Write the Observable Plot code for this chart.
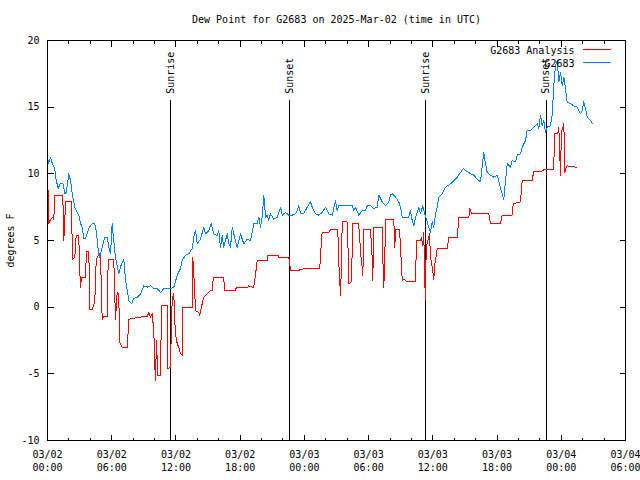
<!DOCTYPE html>
<html><head><meta charset="utf-8">
<script src="https://cdn.jsdelivr.net/npm/d3@7"></script>
<script src="https://cdn.jsdelivr.net/npm/@observablehq/plot@0.6"></script>
<style>body{margin:0;background:#fff} svg{display:block}</style>
</head><body><div id="chart"></div>
<script>
// Hours after 2025-03-02 00:00 UTC, and dew point (°F)
const obsHours = [0.0,0.07,0.28,0.44,0.68,0.75,1.0,1.21,1.43,1.62,1.75,1.99,2.15,2.31,2.55,2.77,2.92,3.08,3.24,3.39,3.55,3.86,4.02,4.18,4.42,4.55,4.74,4.86,5.11,5.35,5.58,5.73,5.89,6.04,6.19,6.35,6.66,6.91,7.13,7.29,7.45,7.6,7.85,8.06,8.38,8.69,9.0,9.31,9.62,9.93,10.25,10.56,10.87,11.18,11.49,11.8,12.12,12.43,12.58,12.89,13.2,13.52,13.67,13.83,13.99,14.29,14.6,14.76,15.07,15.29,15.54,15.85,16.0,16.16,16.32,16.47,16.79,16.94,17.1,17.26,17.56,17.72,18.03,18.34,18.66,18.97,19.27,19.59,19.74,19.9,20.06,20.21,20.37,20.52,20.67,20.83,21.14,21.46,21.61,21.77,21.93,22.24,22.54,22.86,23.17,23.33,23.48,23.64,23.94,24.26,24.57,24.73,25.04,25.35,25.66,25.97,26.28,26.6,26.91,27.06,27.21,27.84,28.47,28.62,28.77,29.08,29.4,29.71,29.87,30.18,30.48,30.8,30.95,31.27,31.58,31.89,32.04,32.2,32.51,32.82,32.98,33.14,33.45,33.75,33.91,34.07,34.22,34.38,34.54,34.69,34.85,35.06,35.25,35.47,35.62,35.78,35.94,36.09,36.25,36.41,36.56,36.87,37.18,37.65,37.96,38.28,38.58,38.84,39.05,39.36,39.52,39.83,40.14,40.45,40.76,40.92,41.08,41.39,41.7,42.01,42.16,42.32,42.63,42.79,42.95,43.26,43.41,43.72,43.88,44.19,44.35,44.66,44.81,45.12,45.43,45.75,45.9,46.06,46.21,46.37,46.52,46.68,46.99,47.15,47.3,47.46,47.62,47.77,47.93,48.09,48.24,48.39,48.55,48.86,49.17,49.49,49.79,49.95,50.1,50.26,50.42,50.73,50.89];
const obsValues = [11.75,10.75,11.25,10.8,10.4,9.75,8.9,9.3,9.3,8.5,8.6,10.0,9.5,8.5,7.5,7.1,6.9,6.3,6.0,5.15,5.15,5.9,6.1,6.25,6.25,5.75,4.25,3.75,4.5,5.25,5.25,4.5,4.0,6.25,5.0,3.75,2.5,3.25,3.6,2.0,1.25,0.5,0.25,0.65,0.75,1.0,1.6,1.5,1.6,1.4,1.4,1.1,1.4,1.4,1.4,1.5,2.4,2.9,3.5,3.9,4.0,4.4,5.25,5.75,4.75,5.1,6.0,5.5,5.75,6.25,5.5,5.35,5.75,4.5,5.35,4.5,5.5,4.75,4.5,6.0,5.0,4.5,5.5,4.75,5.1,5.0,6.25,6.25,6.75,6.0,6.75,8.4,6.75,6.9,6.5,7.0,6.6,6.75,7.1,7.5,6.9,7.1,6.9,6.9,7.0,7.25,7.6,7.0,7.0,7.5,7.9,7.5,7.0,6.9,7.1,7.5,7.0,6.9,8.0,7.25,7.6,7.6,7.6,7.25,7.5,6.9,7.25,7.25,7.6,7.6,7.4,7.5,8.4,7.9,7.6,7.9,8.4,8.5,8.25,7.9,7.5,6.75,6.75,6.75,7.25,6.5,6.1,6.75,7.1,7.5,7.0,7.6,7.0,6.4,6.0,5.6,6.4,6.0,7.0,7.5,8.25,8.5,9.0,9.25,9.5,9.75,10.1,10.4,10.25,10.1,10.0,9.9,9.6,9.4,11.6,10.75,10.1,9.9,9.75,9.9,9.5,8.9,8.1,9.5,10.75,10.5,11.0,10.9,11.4,11.5,12.0,12.5,13.25,13.25,13.5,13.75,13.4,14.4,13.6,14.0,13.1,13.5,13.6,14.4,16.6,18.1,18.5,16.9,17.6,16.6,17.25,16.4,15.4,15.25,15.1,15.0,14.5,14.75,15.4,14.9,14.25,14.0,13.8];

const anaHours = [0.0,0.07,0.12,0.28,0.5,0.59,0.68,1.43,1.52,1.62,1.68,2.24,2.31,2.36,2.55,2.68,2.92,2.99,3.08,3.18,3.55,3.64,3.86,3.95,4.18,4.42,4.55,4.74,4.86,4.95,5.11,5.26,5.58,5.67,6.19,6.35,6.51,6.66,6.73,6.98,7.45,7.6,8.53,9.31,9.47,9.62,9.78,9.93,10.02,10.09,10.18,10.3,10.56,10.65,11.18,11.24,11.49,11.56,11.65,11.8,11.87,11.96,12.12,12.27,12.43,12.58,12.59,13.52,13.57,13.67,13.83,14.13,14.22,14.29,14.45,14.6,14.76,14.92,15.07,15.23,15.42,15.48,16.47,16.54,17.56,17.63,18.66,18.81,19.12,19.27,19.43,19.59,20.52,20.58,21.52,21.61,22.54,22.61,22.7,23.48,23.64,24.5,25.44,25.5,25.66,26.28,26.44,27.12,27.21,27.37,27.47,27.53,27.99,28.09,28.15,28.4,28.52,29.03,29.15,29.24,29.4,29.46,29.55,30.18,30.33,30.39,30.48,31.27,31.33,31.42,31.51,31.58,32.35,32.45,32.51,32.89,32.98,33.14,33.29,33.45,33.6,34.38,34.47,34.85,34.94,35.06,35.15,35.25,35.31,35.38,35.57,35.69,35.78,35.94,36.09,36.18,36.25,36.41,37.34,37.49,38.28,38.43,39.36,39.45,39.61,41.23,41.39,42.32,42.48,43.41,43.51,44.19,44.35,45.28,45.43,46.21,46.37,47.3,47.36,47.67,47.77,47.93,47.99,48.09,48.18,48.24,48.33,48.46,48.55,49.42];
const anaValues = [10.0,8.25,6.25,6.6,6.75,6.6,8.4,8.4,5.0,6.5,7.9,7.9,4.6,3.6,3.75,5.4,5.4,3.25,1.5,2.25,2.25,4.2,4.2,-0.2,-0.2,0.4,3.5,3.9,4.0,3.9,-0.9,-0.7,-0.7,3.6,3.6,-0.9,1.1,1.0,-2.6,-3.0,-3.0,-0.9,-0.75,-0.7,-0.4,-0.75,-0.5,-1.75,-4.25,-5.5,-2.5,-5.1,-5.1,0.1,0.1,-4.6,-4.5,-2.0,0.6,1.0,-0.75,-2.0,-2.75,-3.0,-3.5,-3.6,0.0,0.0,3.75,2.5,-0.25,-0.4,-0.6,-0.3,0.25,0.75,0.9,1.0,1.1,1.25,1.25,2.2,2.2,1.25,1.25,1.45,1.45,1.6,1.5,1.5,2.4,3.5,3.5,3.9,3.9,3.75,3.75,3.4,2.75,2.75,2.85,2.9,2.9,3.9,5.6,5.6,5.8,5.8,3.4,0.9,3.25,6.4,6.4,4.1,1.75,1.9,6.25,6.25,5.6,4.1,3.0,2.4,5.8,5.8,3.75,2.0,6.0,6.0,3.6,1.5,3.5,6.55,6.55,4.5,5.8,5.8,4.5,2.0,2.1,2.0,1.9,1.9,5.0,5.0,5.25,4.6,5.6,1.9,0.5,4.5,5.1,5.5,3.75,3.0,2.1,3.25,3.5,4.4,4.4,5.25,5.25,6.7,6.7,7.4,7.0,7.0,6.25,6.25,6.9,6.9,7.75,7.9,9.5,9.5,10.2,10.2,10.3,10.3,13.0,13.0,13.5,9.9,12.4,13.5,13.25,13.75,10.1,10.5,10.6,10.5];

const sunHours = [11.52, 22.64, 35.31, 46.59];
const sunLabels = ["Sunrise", "Sunset", "Sunrise", "Sunset"];
const yTicks = [-10, -5, 0, 5, 10, 15, 20];
const majorTickHours = [0, 6, 12, 18, 24, 30, 36, 42, 48, 54];
const minorTickHours = [2, 4, 8, 10, 14, 16, 20, 22, 26, 28, 32, 34, 38, 40, 44, 46, 50, 52];
const seriesNames = ["G2683 Analysis", "G2683"];
const seriesColors = ["#ff0000", "#0080ff"];
const titleText = "Dew Point for G2683 on 2025-Mar-02 (time in UTC)";
const yLabel = "degrees F";

const start = Date.UTC(2025, 2, 2);
const toDate = h => new Date(start + h * 3600e3);
const obs = obsHours.map((h, i) => ({t: toDate(h), v: obsValues[i]}));
const ana = anaHours.map((h, i) => ({t: toDate(h), v: anaValues[i]}));
const sun = sunHours.map((h, i) => ({t: toDate(h), label: sunLabels[i]}));
const majorTicks = majorTickHours.map(toDate);
const minorTicks = minorTickHours.map(toDate);
const fmt = d3.utcFormat("%m/%d\n%H:%M");

// tick / legend glyphs as symbols (pixel lengths are styling)
const seg = (dx, dy) => ({draw(ctx) { ctx.moveTo(0, 0); ctx.lineTo(dx, dy); }});
const tickUp6 = seg(0, -6), tickUp3 = seg(0, -3), tickDown6 = seg(0, 6), tickDown3 = seg(0, 3);
const tickRight6 = seg(6, 0), tickLeft6 = seg(-6, 0), swatch = seg(28, 0);
const tk = {fill: "none", stroke: "black", strokeWidth: 1, shapeRendering: "crispEdges"};

const chart = Plot.plot({
  width: 640, height: 480,
  marginLeft: 47, marginRight: 15, marginTop: 40, marginBottom: 40,
  style: {fontFamily: "DejaVu Sans Mono", fontSize: "10px", color: "black", background: "white"},
  x: {type: "utc", domain: [toDate(0), toDate(54)], axis: null},
  y: {domain: [-10, 20], axis: null},
  marks: [
    Plot.ruleX(sun, {x: "t", y1: -10, y2: 15.5, stroke: "black", shapeRendering: "crispEdges"}),
    Plot.text(sun, {x: "t", y: 16, text: "label", rotate: -90, textAnchor: "start", lineAnchor: "middle", fill: "black"}),
    Plot.line(ana, {x: "t", y: "v", stroke: seriesColors[0], strokeWidth: 1, shapeRendering: "crispEdges"}),
    Plot.line(obs, {x: "t", y: "v", stroke: seriesColors[1], strokeWidth: 1, shapeRendering: "crispEdges"}),
    Plot.frame({stroke: "black", shapeRendering: "crispEdges"}),
    // inward, mirrored ticks
    Plot.dot(yTicks, {y: d => d, frameAnchor: "left", symbol: tickRight6, ...tk}),
    Plot.dot(yTicks, {y: d => d, frameAnchor: "right", symbol: tickLeft6, ...tk}),
    Plot.dot(majorTicks, {x: d => d, frameAnchor: "bottom", symbol: tickUp6, ...tk}),
    Plot.dot(minorTicks, {x: d => d, frameAnchor: "bottom", symbol: tickUp3, ...tk}),
    Plot.dot(majorTicks, {x: d => d, frameAnchor: "top", symbol: tickDown6, ...tk}),
    Plot.dot(minorTicks, {x: d => d, frameAnchor: "top", symbol: tickDown3, ...tk}),
    // tick labels
    Plot.text(yTicks, {y: d => d, frameAnchor: "left", dx: -8, text: d => String(d), textAnchor: "end", lineAnchor: "middle", fill: "black"}),
    Plot.text(majorTicks, {x: d => d, frameAnchor: "bottom", dy: 8, text: fmt, lineAnchor: "top", lineHeight: 1.3, fill: "black"}),
    // title and axis label
    Plot.text([titleText], {frameAnchor: "top", dy: -21, lineAnchor: "middle", fill: "black"}),
    Plot.text([yLabel], {frameAnchor: "left", dx: -37, rotate: -90, lineAnchor: "middle", textAnchor: "middle", fill: "black"}),
    // legend
    Plot.text([seriesNames[0]], {frameAnchor: "top-right", dx: -51, dy: 10, textAnchor: "end", lineAnchor: "middle", fill: "black"}),
    Plot.text([seriesNames[1]], {frameAnchor: "top-right", dx: -51, dy: 23, textAnchor: "end", lineAnchor: "middle", fill: "black"}),
    Plot.dot([0], {frameAnchor: "top-right", dx: -43, dy: 9, symbol: swatch, fill: "none", stroke: seriesColors[0], shapeRendering: "crispEdges"}),
    Plot.dot([0], {frameAnchor: "top-right", dx: -43, dy: 22, symbol: swatch, fill: "none", stroke: seriesColors[1], shapeRendering: "crispEdges"})
  ]
});
document.getElementById("chart").appendChild(chart);
</script>
</body></html>
